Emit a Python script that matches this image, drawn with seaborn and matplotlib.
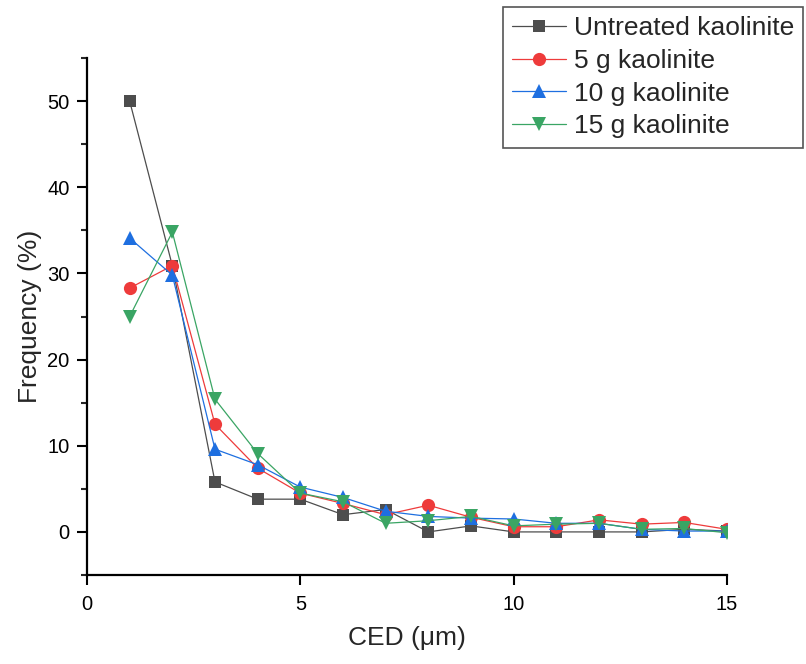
import numpy as np
import pandas as pd
import matplotlib
matplotlib.use("Agg")
import matplotlib.pyplot as plt
import seaborn as sns
from matplotlib.ticker import MultipleLocator

ced = [1, 2, 3, 4, 5, 6, 7, 8, 9, 10, 11, 12, 13, 14, 15]
untreated = [50.0, 30.9, 5.8, 3.8, 3.8, 2.0, 2.6, 0.0, 0.7, 0.0, 0.0, 0.0, 0.0, 0.3, 0.1]
g5 = [28.3, 30.9, 12.5, 7.4, 4.5, 3.3, 2.0, 3.1, 1.7, 0.6, 0.6, 1.4, 0.9, 1.1, 0.3]
g10 = [34.1, 29.8, 9.6, 7.8, 5.2, 4.0, 2.4, 1.8, 1.6, 1.5, 1.0, 1.0, 0.3, 0.1, 0.1]
g15 = [25.0, 34.8, 15.4, 9.1, 4.5, 3.5, 1.0, 1.3, 1.8, 0.7, 0.9, 1.0, 0.3, 0.4, -0.1]
labels = ["Untreated kaolinite", "5 g kaolinite", "10 g kaolinite", "15 g kaolinite"]

sns.set_style("ticks")
plt.rcParams["font.family"] = ["Liberation Sans", "DejaVu Sans"]

series = [untreated, g5, g10, g15]
colors = ["#4d4d4d", "#ee3b3b", "#1e6fe0", "#3aa564"]
markers = ["s", "o", "^", "v"]
msizes = [9, 9.5, 10, 10]

fig = plt.figure(figsize=(8.06, 6.64), dpi=100)
ax = fig.add_axes([87 / 806, 1 - 575 / 664, 640 / 806, (575 - 58) / 664])

for vals, lab, c, m, ms in zip(series, labels, colors, markers, msizes):
    df = pd.DataFrame({"CED": ced, "Frequency": vals})
    sns.lineplot(data=df, x="CED", y="Frequency", ax=ax, color=c, marker=m,
                 markersize=ms, markeredgewidth=0, linewidth=0.9, label=lab)

ax.set_xlim(0, 15)
ax.set_ylim(-5, 55)
ax.xaxis.set_major_locator(MultipleLocator(5))
ax.yaxis.set_major_locator(MultipleLocator(10))
ax.yaxis.set_minor_locator(MultipleLocator(5))
ax.tick_params(axis="both", which="major", direction="out", length=7, width=1.5,
               labelsize=14.5, colors="black")
ax.tick_params(axis="y", which="major", pad=5.5)
ax.tick_params(axis="x", which="major", pad=7.5)
ax.tick_params(axis="y", which="minor", direction="out", length=4, width=1.5)
for s in ["top", "right"]:
    ax.spines[s].set_visible(False)
for s in ["left", "bottom"]:
    ax.spines[s].set_linewidth(1.6)
    ax.spines[s].set_color("black")

ax.set_xlabel("CED (μm)", fontsize=19, labelpad=8.5)
ax.set_ylabel("Frequency (%)", fontsize=19, labelpad=4)

leg = ax.legend(loc="upper right", bbox_to_anchor=(803 / 806, 1 - 7 / 664),
                bbox_transform=fig.transFigure, fontsize=19, frameon=True,
                fancybox=False, edgecolor="#555555", framealpha=1,
                handlelength=2.03, handletextpad=0.3, borderpad=0.35,
                labelspacing=0.33, borderaxespad=0)
leg.get_frame().set_linewidth(1.2)

fig.savefig("out.png", dpi=100)
